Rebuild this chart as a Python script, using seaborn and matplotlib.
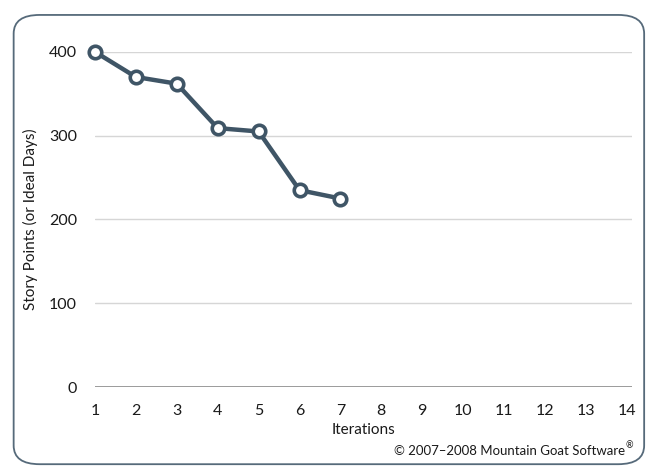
import matplotlib
matplotlib.use('Agg')
import matplotlib.pyplot as plt
import seaborn as sns
import pandas as pd
from matplotlib.patches import FancyBboxPatch

# Burndown data
iterations = [1, 2, 3, 4, 5, 6, 7]
story_points = [400, 370, 362, 309, 305, 235, 225]
x_ticks = list(range(1, 15))
y_ticks = [0, 100, 200, 300, 400]

df = pd.DataFrame({'Iteration': iterations, 'Points': story_points})

sns.set_style('white')
plt.rcParams['font.family'] = ['Lato', 'DejaVu Sans']

line_color = '#3f5566'

fig = plt.figure(figsize=(6.5, 4.67), dpi=100)
fig.patch.set_facecolor('white')

# rounded frame around the chart
frame = FancyBboxPatch((0.021, 0.006), 0.97, 0.962, boxstyle='round,pad=0,rounding_size=0.04',
                       transform=fig.transFigure, facecolor='white', edgecolor='#566a7a',
                       linewidth=1.3, zorder=-5)
fig.patches.append(frame)

ax = fig.add_axes([0.146, 0.171, 0.826, 0.718])
ax.set_zorder(2)
ax.set_facecolor('none')

for y in y_ticks[1:]:
    ax.axhline(y, color='#d6d6d6', linewidth=1, zorder=1)
ax.axhline(0, color='#8a8a8a', linewidth=1.2, zorder=1)

sns.lineplot(data=df, x='Iteration', y='Points', ax=ax, color=line_color, linewidth=3.2,
             marker='o', markersize=9, markerfacecolor='white', markeredgecolor=line_color,
             markeredgewidth=2.6, clip_on=False, zorder=3)

ax.set_xlim(1, 14.12)
ax.set_ylim(0, 400)
ax.set_xticks(x_ticks)
ax.set_yticks(y_ticks)
ax.tick_params(axis='both', length=0, labelsize=11.5, colors='#1a1a1a')
ax.tick_params(axis='x', pad=12)
ax.tick_params(axis='y', pad=13)
for s in ax.spines.values():
    s.set_visible(False)

ax.set_xlabel('Iterations', fontsize=11, color='#1a1a1a', labelpad=4)
ax.set_ylabel('Story Points (or Ideal Days)', fontsize=11, color='#1a1a1a', labelpad=8)

fig.text(0.962, 0.025, '\u00a9 2007\u20132008 Mountain Goat Software', ha='right',
         fontsize=9.5, color='#1a1a1a', zorder=3)
fig.text(0.962, 0.040, '\u00ae', ha='left', fontsize=6.5, color='#1a1a1a', zorder=3)

fig.savefig('out.png', dpi=100)
